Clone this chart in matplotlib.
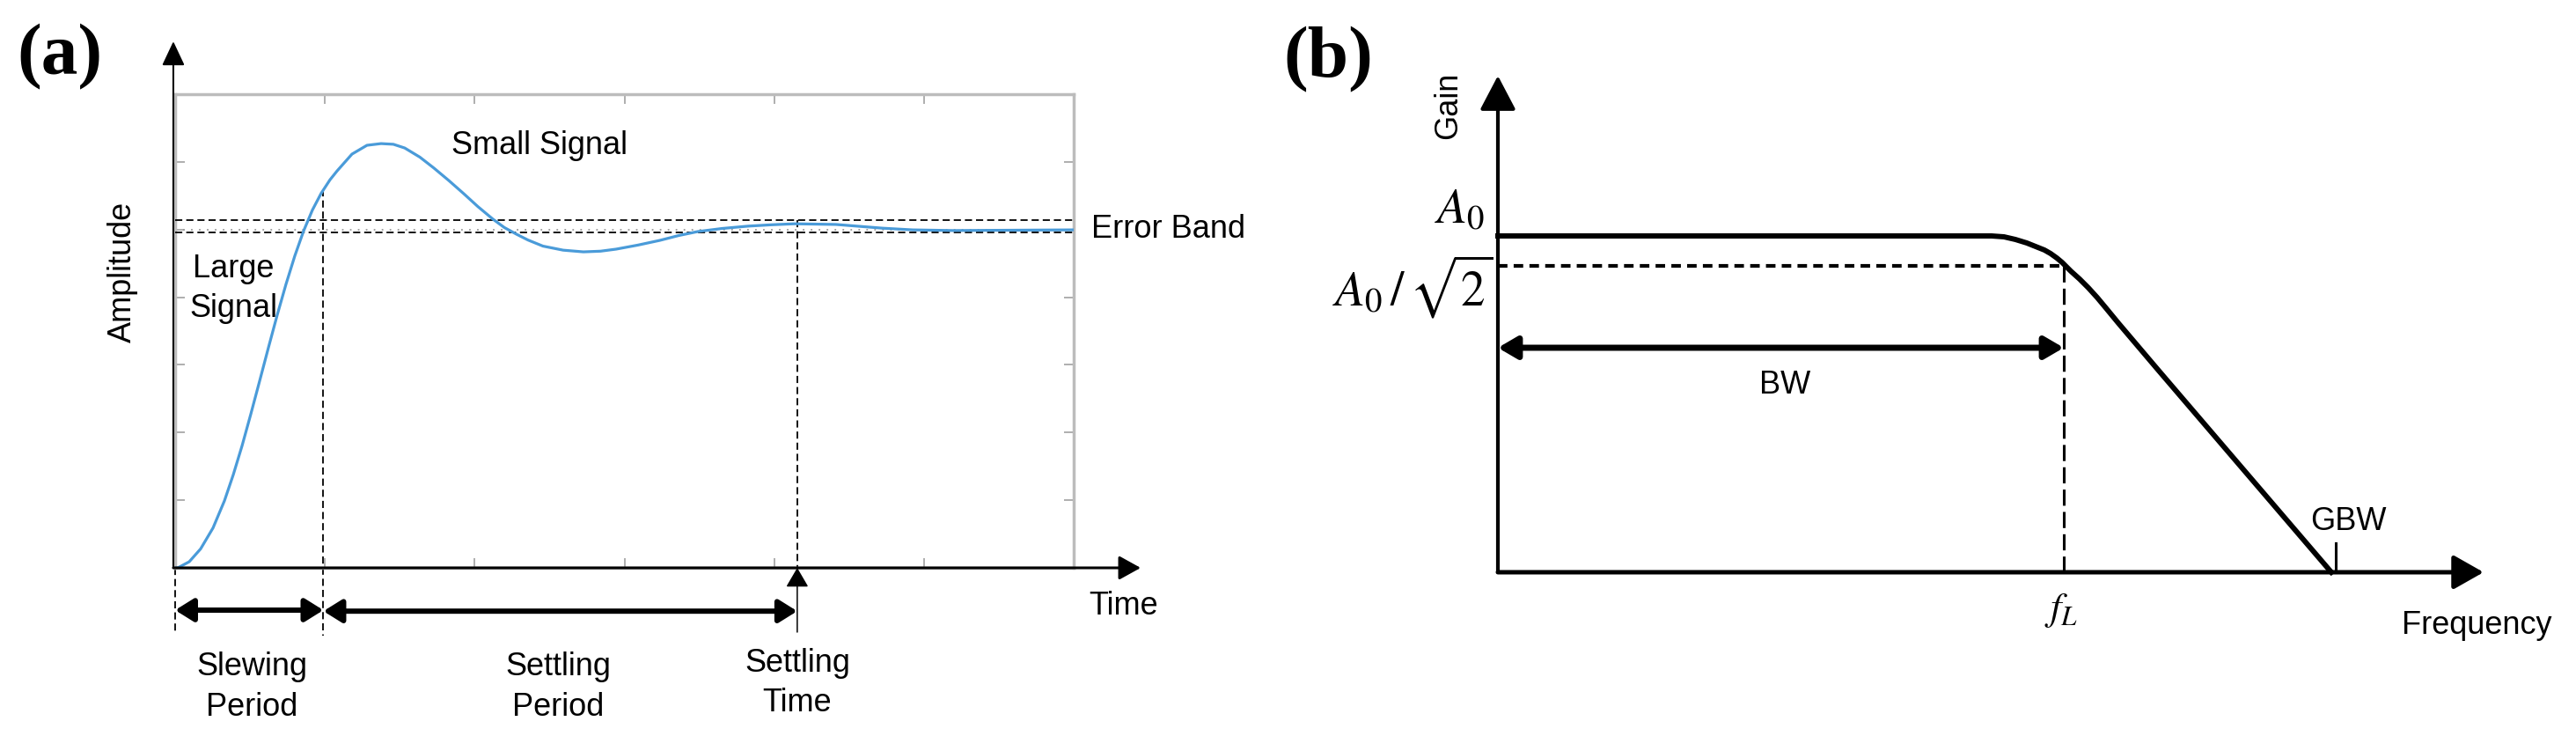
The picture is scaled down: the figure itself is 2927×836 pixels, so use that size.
"""Two-panel op-amp figure: (a) step response with slewing/settling, (b) gain vs frequency."""
import numpy as np
import matplotlib; matplotlib.use("Agg")
import matplotlib.pyplot as plt
from matplotlib.patches import FancyArrowPatch

plt.rcParams["font.family"] = ["Liberation Sans", "DejaVu Sans"]
plt.rcParams["mathtext.fontset"] = "stix"

# (a) step response (time and amplitude in plot units)
resp_t = [0.0, 0.018, 0.094, 0.170, 0.253, 0.329, 0.388, 0.447, 0.505, 0.564,
          0.623, 0.682, 0.740, 0.799, 0.858, 0.917, 0.975, 1.034, 1.081, 1.181,
          1.281, 1.375, 1.457, 1.533, 1.634, 1.727, 1.827, 1.927, 2.021, 2.121,
          2.198, 2.280, 2.356, 2.456, 2.591, 2.726, 2.840, 2.944, 3.090, 3.237,
          3.360, 3.490, 3.650, 3.825, 3.980, 4.136, 4.412, 4.724, 4.924, 5.194,
          5.600, 6.0]
resp_amp = [0.0, 0.0, 0.018, 0.056, 0.118, 0.198, 0.275, 0.361, 0.454, 0.552,
            0.651, 0.748, 0.838, 0.922, 0.996, 1.058, 1.107, 1.147, 1.173, 1.223,
            1.249, 1.254, 1.252, 1.241, 1.214, 1.182, 1.145, 1.106, 1.068, 1.031,
            1.006, 0.986, 0.969, 0.951, 0.939, 0.934, 0.936, 0.942, 0.954, 0.968,
            0.982, 0.994, 1.003, 1.010, 1.014, 1.017, 1.015, 1.004, 0.999, 0.997,
            0.998, 0.999]
x_ticks_a = [1, 2, 3, 4, 5]
y_ticks_a = [0.2, 0.4, 0.6, 0.8, 1.0, 1.2]
FINAL = 1.0
BAND_HI, BAND_LO = 1.028, 0.992
SLEW_END, SLEW_TOP = 0.99, 1.12
SETTLE_T = 4.154

# (b) gain curve (frequency and gain in sketch units)
freq = [0.0, 5.28, 5.61, 5.75, 5.88, 6.01, 6.11, 6.21, 6.28, 6.35, 6.41, 6.51,
        6.61, 6.71, 6.81, 6.91, 7.05, 7.50, 9.47]
gain = [3.82, 3.82, 3.82, 3.81, 3.78, 3.74, 3.70, 3.66, 3.62, 3.57, 3.52, 3.42,
        3.33, 3.23, 3.12, 3.00, 2.83, 2.30, 0.0]
A0_R2 = 3.48
F_L = 6.43
BW_Y = 2.55
GBW_F = 9.52

CURVE_BLUE = "#4a9bd9"
DASH = (0, (4.5, 2.5))
FS = 26


def arrow(ax, x0, y0, x1, y1, style, lw, hl, hw):
    ax.add_patch(FancyArrowPatch((x0, y0), (x1, y1), mutation_scale=1, lw=lw, color="k",
                                 arrowstyle=f"{style},head_length={hl},head_width={hw}",
                                 shrinkA=0, shrinkB=0, clip_on=False, zorder=5))


fig = plt.figure(figsize=(29.27, 8.36), dpi=100)

# ---------------- (a) ----------------
axa = fig.add_axes([199 / 2927, 191 / 836, 1021 / 2927, 538 / 836])
axa.set_xlim(0, 6); axa.set_ylim(0, 1.4)
axa.set_xticks(x_ticks_a); axa.set_yticks(y_ticks_a)
axa.tick_params(direction="in", length=8, width=1.3, colors="#a8a8a8", top=True, right=True,
                labelbottom=False, labelleft=False)
for sp in axa.spines.values():
    sp.set_color("#bcbcbc"); sp.set_linewidth(2.5)

axa.plot(resp_t, resp_amp, color=CURVE_BLUE, lw=2.3, zorder=4, solid_joinstyle="round")
for yb in (BAND_HI, BAND_LO):
    axa.axhline(yb, color="k", lw=1.3, ls=DASH, zorder=3)
axa.axhline(FINAL, color="#9a9a9a", lw=1.3, ls=(0, (1, 4)), zorder=2)

axa.plot([SLEW_END, SLEW_END], [SLEW_TOP, -0.20], color="k", lw=1.3, ls=DASH, clip_on=False)
axa.plot([0, 0], [0, -0.187], color="k", lw=1.3, ls=DASH, clip_on=False)
axa.plot([SETTLE_T, SETTLE_T], [BAND_HI, 0], color="k", lw=1.3, ls=DASH, clip_on=False)

arrow(axa, -0.012, 0, -0.012, 1.556, "-|>", 1.5, 17, 8)
arrow(axa, -0.012, 0, 6.447, 0, "-|>", 2.2, 15, 8.3)
arrow(axa, SETTLE_T, -0.19, SETTLE_T, 0, "-|>", 1.1, 13.7, 8)
arrow(axa, 0, -0.125, SLEW_END, -0.125, "<|-|>", 4.3, 12.5, 7.8)
arrow(axa, SLEW_END, -0.128, SETTLE_T, -0.128, "<|-|>", 4.3, 12.5, 7.8)

txt = dict(fontsize=FS, va="baseline", clip_on=False)
axa.text(1.845, 1.223, "Small Signal", ha="left", **txt)
axa.text(0.118, 0.859, "Large", ha="left", **txt)
axa.text(0.094, 0.742, "Signal", ha="left", **txt)
axa.text(6.117, 0.976, "Error Band", ha="left", **txt)
axa.text(6.335, -0.138, "Time", ha="center", **txt)
axa.text(0.511, -0.317, "Slewing", ha="center", **txt)
axa.text(0.511, -0.437, "Period", ha="center", **txt)
axa.text(2.556, -0.317, "Settling", ha="center", **txt)
axa.text(2.556, -0.437, "Period", ha="center", **txt)
axa.text(SETTLE_T, -0.307, "Settling", ha="center", **txt)
axa.text(SETTLE_T, -0.424, "Time", ha="center", **txt)
axa.text(-0.353, 0.874, "Amplitude", rotation=90, ha="center", va="center", fontsize=FS)

# ---------------- (b) ----------------
axb = fig.add_axes([1702 / 2927, 186 / 836, 1120 / 2927, 564 / 836])
axb.set_xlim(0, 11.2); axb.set_ylim(0, 5.64); axb.axis("off")

axb.plot(freq, gain, color="k", lw=4.3, solid_joinstyle="round", clip_on=False, zorder=4)
axb.plot([0, F_L], [A0_R2, A0_R2], color="k", lw=3, ls=(0, (2.6, 1.7)), clip_on=False)
axb.plot([F_L, F_L], [A0_R2, 0], color="k", lw=2.2, ls=(0, (6, 2.3)), clip_on=False)
axb.plot([GBW_F, GBW_F], [0, 0.33], color="k", lw=2.2, clip_on=False)

arrow(axb, 0, 0, 0, 5.64, "-|>", 3, 24, 12.6)
arrow(axb, 0, 0, 11.2, 0, "-|>", 3.6, 21, 11.9)
arrow(axb, 0, BW_Y, F_L, BW_Y, "<|-|>", 5, 13, 7.6)

axb.text(-0.56, 5.30, "Gain", rotation=90, ha="center", va="center", fontsize=FS)
axb.text(-0.15, 3.97, r"$A_0$", ha="right", va="baseline", fontsize=40, clip_on=False)
axb.text(-0.05, 3.02, r"$A_0\,/\,\sqrt{2}$", ha="right", va="baseline", fontsize=40, clip_on=False)
axb.text(3.26, 2.03, "BW", ha="center", **txt)
axb.text(9.66, 0.48, "GBW", ha="center", **txt)
axb.text(6.40, -0.22, r"$f_L$", ha="center", va="top", fontsize=32, clip_on=False)
axb.text(10.27, -0.70, "Frequency", ha="left", **txt)

lab = dict(family="Liberation Serif", weight="bold", fontsize=60, ha="left", va="top")
fig.text(19 / 2927, 1 - 27 / 836, "(a)", **lab)
fig.text(1458 / 2927, 1 - 30 / 836, "(b)", **lab)

fig.savefig("out.png", dpi=100)
